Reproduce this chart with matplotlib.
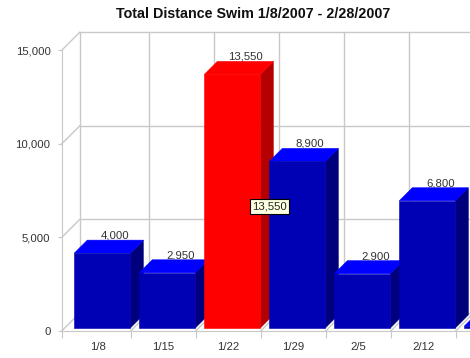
import matplotlib
matplotlib.use('Agg')
import matplotlib.pyplot as plt
from matplotlib.patches import Polygon

categories = ['1/8', '1/15', '1/22', '1/29', '2/5', '2/12', '2/19']
values = [4000, 2950, 13550, 8900, 2900, 6800, 100]
value_labels = ['4,000', '2,950', '13,550', '8,900', '2,900', '6,800', '']
colors = ['b', 'b', 'r', 'b', 'b', 'b', 'b']
yticks = [0, 5000, 10000, 15000]
yticklabels = ['0', '5,000', '10,000', '15,000']

W, H = 470, 358
plt.rcParams['font.family'] = ['Liberation Sans', 'DejaVu Sans']
GRID = '#c8c8c8'
FS = 8.2

fig = plt.figure(figsize=(W / 100, H / 100), dpi=100)
# axes = front plane of the 3d box, in pixels
left, right, y0, y15 = 61.7, 470, 331, 50.3
ax = fig.add_axes([left / W, 1 - y0 / H, (right - left) / W, (y0 - y15) / H])
ax.set_facecolor('none')

# pixel -> data units
px_x = 1 / 65
px_y = 15000 / (y0 - y15)
dx, dy = 18 * px_x, 18 * px_y
xl = -4 / 65
xr = (470 - 65.7) / 65


def line(xs, ys):
    ax.plot(xs, ys, color=GRID, lw=1, clip_on=False, zorder=1)


# back wall
for y in yticks:
    line([xl, xl + dx], [y, y + dy])
    line([xl + dx, 7], [y + dy, y + dy])
line([xl + dx, xl + dx], [dy, 15000 + dy])
for i in range(1, 8):
    line([i + dx, i + dx], [dy, 15000 + dy])
    line([i, i + dx], [0, dy])

# bars, front face + top + side
bw = 56 * px_x
off = 0.4 * px_x
lift = 3 * px_y
d_x, d_y = 13 * px_x, 13 * px_y
for i, (v, c) in enumerate(zip(values, colors)):
    x0 = i + 1 - off - bw
    x1 = i + 1 - off
    b = lift
    t = v + lift
    front, top, side = ('#0000b4', '#0000ff', '#00007d') if c == 'b' else ('#ff0000', '#ff0000', '#b40000')
    # edge in the face colour closes the seams between the faces
    ax.add_patch(Polygon([(x1, b), (x1 + d_x, b + d_y), (x1 + d_x, t + d_y), (x1, t)], fc=side, ec=side, lw=0.4, zorder=3, clip_on=False))
    ax.add_patch(Polygon([(x0, t), (x0 + d_x, t + d_y), (x1 + d_x, t + d_y), (x1, t)], fc=top, ec=top, lw=0.4, zorder=3, clip_on=False))
    ax.add_patch(Polygon([(x0, b), (x1, b), (x1, t), (x0, t)], fc=front, ec=front, lw=0.4, zorder=3, clip_on=False))
    if value_labels[i]:
        ax.text((x0 + x1) / 2 + d_x, t + d_y - 0.5 * px_y, value_labels[i], ha='center', va='bottom',
                fontsize=FS, color='#333333', zorder=5, clip_on=False)

# tooltip
ax.text(3.135, 6640, '13,550', ha='center', va='center', fontsize=FS, color='#222222', zorder=6,
        bbox=dict(boxstyle='square,pad=0.2', fc='#ffffe1', ec='black', lw=0.8))

for s in ['top', 'right']:
    ax.spines[s].set_visible(False)
ax.spines['left'].set_color(GRID)
ax.spines['bottom'].set_color(GRID)
ax.set_yticks(yticks)
ax.set_yticklabels(yticklabels, fontsize=FS, color='#333333')
ax.tick_params(axis='y', color=GRID, length=3, pad=5)
ax.set_xticks([xl] + list(range(1, 7)))
ax.set_xticklabels([])
ax.tick_params(axis='x', color=GRID, length=5)
ax.set_xticks([i + 0.5 for i in range(len(categories))], minor=True)
ax.set_xticklabels(categories, minor=True, fontsize=FS, color='#333333')
ax.tick_params(axis='x', which='minor', length=0, pad=8)
# set_xticks widens the view, so the limits go last
ax.set_xlim(xl, xr)
ax.set_ylim(0, 15000)

fig.text(253.5 / W, 1 - 14.5 / H, 'Total Distance Swim 1/8/2007 - 2/28/2007', ha='center', va='center',
         fontsize=10.3, fontweight='bold', color='#111111')

fig.savefig('out.png', dpi=100)
